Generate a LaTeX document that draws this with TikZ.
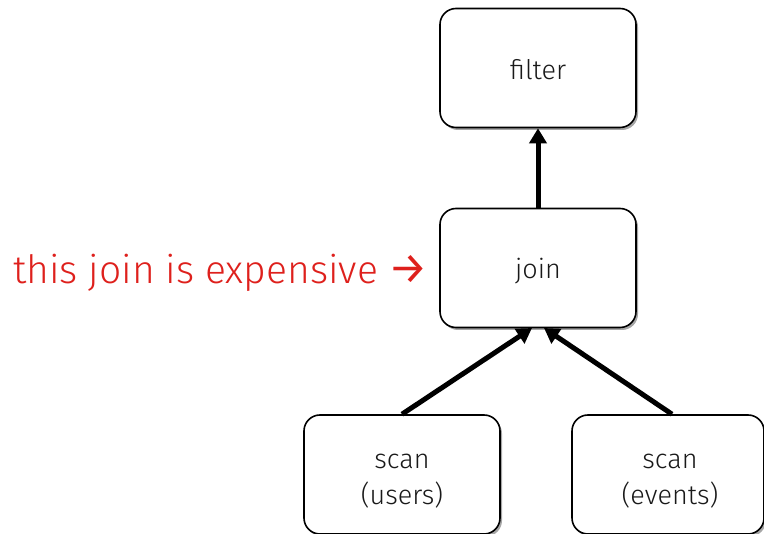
\documentclass[tikz,border=0pt]{standalone}
\usepackage{fontspec}
\setmainfont{Fira Sans Light}
\newfontfamily\arrowfont{Fira Sans}
\usetikzlibrary{arrows.meta,shadows}
\definecolor{warnred}{RGB}{222,32,28}
\definecolor{txtgray}{RGB}{25,25,25}
\tikzset{
  opbox/.style={draw=black, line width=1.6pt, rounded corners=16pt, fill=white,
    minimum width=196pt, minimum height=119pt,
    drop shadow={shadow xshift=2pt, shadow yshift=-2.5pt, opacity=0.35, fill=black}},
  optext/.style={align=center, inner sep=0pt, font=\fontsize{27}{36}\selectfont, text=txtgray},
  flow/.style={line width=5pt, -{Triangle[length=15pt,width=17pt]}}
}
\begin{document}
\begin{tikzpicture}[x=1pt,y=-1pt]
\useasboundingbox (0,0) rectangle (764,534);
\node[opbox] (filter) at (538,68) {};
\node[opbox] (join) at (538,268) {};
\node[opbox] (users) at (402,474.5) {};
\node[opbox, minimum width=192pt] (events) at (668,474.5) {};
\node[optext] (filterT) at ([yshift=-2pt]filter.center) {filter};
\node[optext] (joinT) at ([yshift=-3pt]join.center) {join};
\node[optext] (usersT) at ([yshift=-7pt]users.center) {scan\\(users)};
\node[optext] (eventsT) at ([xshift=2pt,yshift=-7pt]events.center) {scan\\(events)};
\draw[flow] (join.north) -- (filter.south);
\coordinate (uin) at (532,328);
\coordinate (ein) at (544,328);
\draw[flow] (users.north) -- (uin);
\draw[flow] ([xshift=4pt]events.north) -- (ein);
\node[anchor=base west, inner sep=0pt, text=warnred, font=\fontsize{39}{44}\selectfont] (note) at (13,284) {this join is expensive {\arrowfont\fontseries{m}\selectfont\fontsize{44}{44}\selectfont →}};
\end{tikzpicture}
\end{document}
